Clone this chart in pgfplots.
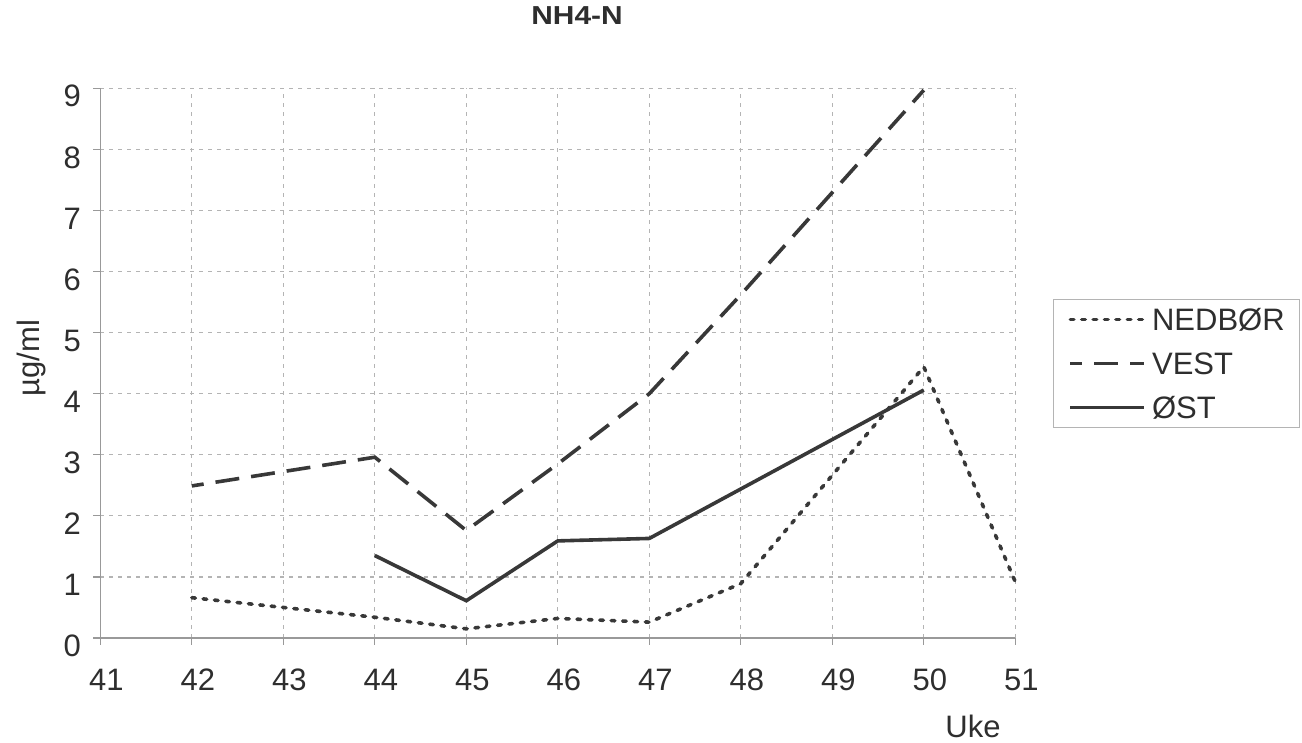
\documentclass[border=0pt]{standalone}
\usepackage{fontspec}
\setmainfont{Liberation Sans}
\usepackage{pgfplots}
\pgfplotsset{compat=1.18}
\definecolor{linegray}{HTML}{383838}
\definecolor{gridgray}{HTML}{B4B4B4}
\definecolor{textgray}{HTML}{2E2E2E}
\begin{document}
\fontsize{15.5}{18}\selectfont
\begin{tikzpicture}
\useasboundingbox (-50.15pt,-52.5pt) rectangle (600.85pt,319pt);
\begin{axis}[
  scale only axis,
  width=457.5pt, height=274.85pt,
  xmin=41, xmax=51, ymin=0, ymax=9,
  xtick={41,...,51}, ytick={0,...,9},
  /pgf/number format/assume math mode=true,
  axis x line*=bottom, axis y line*=left,
  axis line style={gridgray!85!black, line width=0.7pt, -},
  tick align=outside, major tick length=3.5pt,
  tick style={gridgray!85!black, line width=0.6pt},
  grid=major,
  major grid style={gridgray, line width=0.6pt, dash pattern=on 2pt off 2.5pt},
  tick label style={font=\fontsize{15.5}{18}\selectfont, text=textgray},
  xticklabel style={yshift=-6.8pt, xshift=3pt},
  yticklabel style={xshift=-0.8pt, yshift=-4pt},
  title={\scalebox{1.15}[1.0]{\textbf{NH4-N}}},
  title style={at={(0.521,1.1097)}, anchor=center, font=\fontsize{13}{15}\selectfont, text=textgray},
  xlabel={Uke},
  xlabel style={at={(0.9538,-0.160)}, anchor=center, font=\fontsize{15.5}{18}\selectfont, text=textgray},
  ylabel={µg/ml},
  ylabel style={at={(-0.0757,0.5094)}, anchor=center, font=\fontsize{15.5}{18}\selectfont, text=textgray},
  legend style={at={(1.0412,0.6167)}, anchor=north west,
    draw=gridgray, line width=0.5pt, fill=white,
    font=\fontsize{15.5}{18}\selectfont, text=textgray,
    inner xsep=7.5pt, inner ysep=4.5pt, row sep=11pt, column sep=3pt,
    nodes={inner sep=0pt, text depth=0pt}},
  legend cell align=left,
  legend image code/.code={\draw[#1] (0pt,0pt) -- (37pt,0pt);},
  clip=false,
]
% precipitation
\addplot[linegray, line width=1.8pt, line cap=round, dash pattern=on 1.8pt off 3.9pt]
  coordinates {(42,0.66) (44,0.34) (45,0.15) (46,0.32) (47,0.26) (48,0.89) (50,4.44) (51,0.92)};
\addlegendentry{NEDBØR}
% west station
\addplot[linegray, line width=1.8pt, dash pattern=on 12pt off 6pt, dash phase=6pt]
  coordinates {(42,2.49) (44,2.96) (45,1.76) (46,2.85) (47,4.0) (48,5.62) (50,8.97)};
\addlegendentry{VEST}
% east station
\addplot[linegray, line width=1.8pt]
  coordinates {(44,1.35) (45,0.61) (46,1.59) (47,1.63) (50,4.06)};
\addlegendentry{ØST}
\end{axis}
\end{tikzpicture}
\end{document}
